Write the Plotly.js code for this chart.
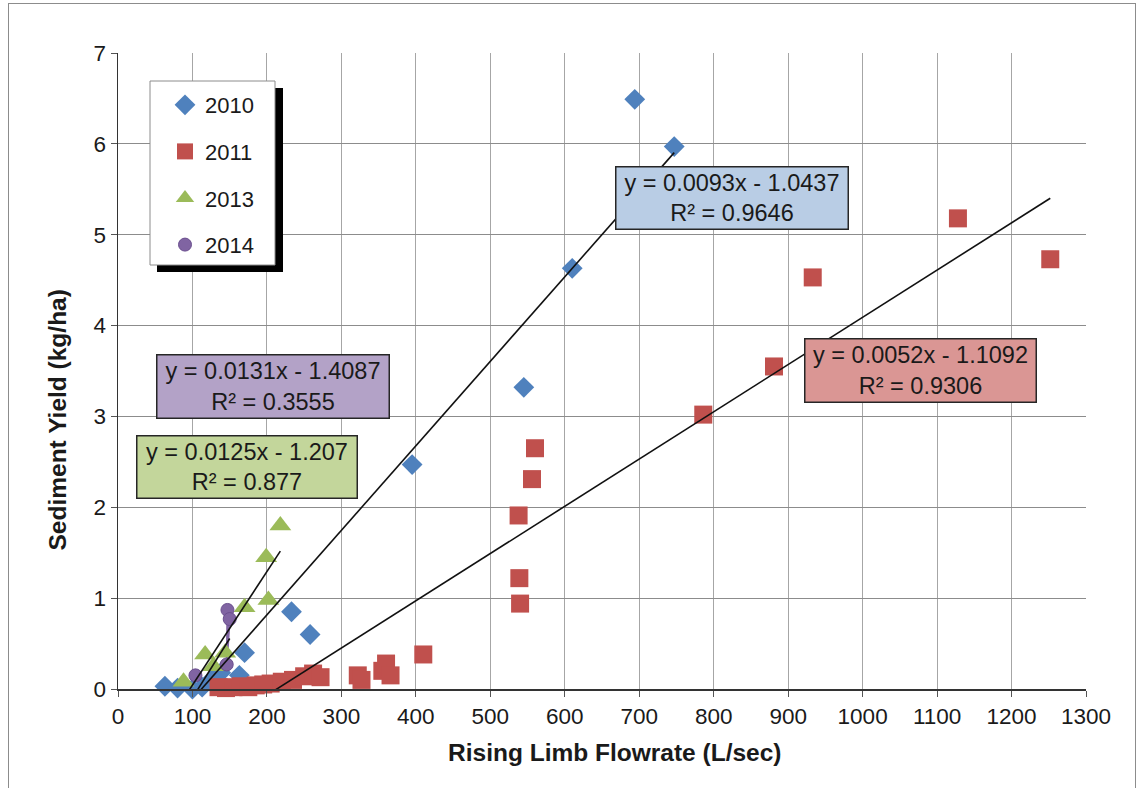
<!DOCTYPE html>
<html><head><meta charset="utf-8">
<script src="https://cdn.plot.ly/plotly-3.0.1.min.js"></script>
<style>
html,body{margin:0;padding:0;background:#fff;}
#frame{position:absolute;left:8px;top:3px;width:1128px;height:800px;border:1px solid #8c8c8c;box-sizing:border-box;}
#chart{position:absolute;left:0;top:0;width:1144px;height:788px;}
</style></head><body>
<div id="frame"></div>
<div id="chart"></div>
<script>
// ---- data ----
const seriesNames = ['2010', '2011', '2013', '2014'];
const x2010 = [63, 80, 100, 113, 125, 138, 163, 170, 233, 258, 395, 545, 610, 694, 747];
const y2010 = [0.03, 0.01, 0.00, 0.02, 0.10, 0.18, 0.15, 0.40, 0.85, 0.60, 2.47, 3.32, 4.63, 6.49, 5.97];
const x2011 = [135, 145, 155, 165, 175, 185, 195, 205, 220, 235, 250, 262, 272, 322, 327, 355, 360, 366, 410, 539, 540, 538, 556, 560, 786, 881, 933, 1128, 1252];
const y2011 = [0.02, 0.01, 0.02, 0.03, 0.02, 0.04, 0.05, 0.06, 0.08, 0.10, 0.14, 0.17, 0.13, 0.15, 0.10, 0.20, 0.28, 0.15, 0.38, 1.22, 0.94, 1.91, 2.31, 2.65, 3.02, 3.55, 4.53, 5.18, 4.73];
const x2013 = [88, 117, 128, 144, 170, 202, 199, 218];
const y2013 = [0.08, 0.38, 0.25, 0.40, 0.90, 0.98, 1.45, 1.80];
const x2014 = [104, 146, 147, 150];
const y2014 = [0.15, 0.27, 0.87, 0.77];
// trendline equations as printed on the chart
const slopes = [0.0093, 0.0052, 0.0125, 0.0131];
const intercepts = [-1.0437, -1.1092, -1.207, -1.4087];
const r2 = ['0.9646', '0.9306', '0.877', '0.3555'];
const eqTexts = ['y = 0.0093x - 1.0437', 'y = 0.0052x - 1.1092', 'y = 0.0125x - 1.207', 'y = 0.0131x - 1.4087'];
const xTicks = [0,100,200,300,400,500,600,700,800,900,1000,1100,1200,1300];
const yTicks = [0,1,2,3,4,5,6,7];

// ---- styling ----
const colors = ['#4F81BD', '#C0504D', '#9BBB59', '#8064A2'];
const symbols = ['diamond', 'square', 'triangle-up', 'circle'];
const sizes = [16, 18, 19, 13];
const boxFill = ['#B9CDE5', '#DA9694', '#C3D69B', '#B3A2C7'];
const W = 1144, H = 788, ML = 118, MR = 58, MT = 53, MB = 99;
const PW = W - ML - MR, PH = H - MT - MB;
const px2x = p => (p - ML) / PW, px2y = p => (H - MB - p) / PH;

const xs = [x2010, x2011, x2013, x2014];
const ys = [y2010, y2011, y2013, y2014];
const traces = [];
// connector line for 2014 points
const conIdx = [2, 1, 3];
traces.push({x: conIdx.map(i => x2014[i]), y: conIdx.map(i => y2014[i]), mode: 'lines',
  line: {color: colors[3], width: 2}, showlegend: false, hoverinfo: 'skip'});
for (let i = 0; i < 4; i++) {
  traces.push({x: xs[i], y: ys[i], name: seriesNames[i], mode: 'markers', legendgroup: 'g' + i,
    marker: {symbol: symbols[i], size: sizes[i], color: colors[i], line: {width: i === 3 ? 1 : 0, color: '#6b4f8f'}},
    cliponaxis: false});
}
for (let i = 0; i < 4; i++) {
  const lo = Math.min(...xs[i]), hi = Math.max(...xs[i]);
  traces.push({x: [lo, hi], y: [slopes[i] * lo + intercepts[i], slopes[i] * hi + intercepts[i]],
    mode: 'lines', line: {color: '#111', width: 1.6}, showlegend: false, hoverinfo: 'skip'});
}

// equation label boxes: [center x data, center y data, width, height]
const boxPos = [[824.6, 5.40, 229, 59], [1078, 3.51, 228, 60], [173.6, 2.44, 217, 59], [208.5, 3.33, 229, 60]];
const annotations = [];
for (let i = 0; i < 4; i++) {
  const b = boxPos[i];
  annotations.push({x: b[0], y: b[1], xref: 'x', yref: 'y', showarrow: false,
    text: eqTexts[i] + '<br>R² = ' + r2[i], align: 'center',
    font: {size: 23.5, color: '#1a1a1a'}, bgcolor: boxFill[i], bordercolor: '#262626',
    borderwidth: 1.5, borderpad: 1, width: b[2], height: b[3]});
}
annotations.push({xref: 'paper', yref: 'paper', x: px2x(615), y: px2y(768), showarrow: false,
  text: '<b>Rising Limb Flowrate (L/sec)</b>', font: {size: 24.5, color: '#1a1a1a'}});
annotations.push({xref: 'paper', yref: 'paper', x: px2x(42), y: px2y(420), showarrow: false, textangle: -90,
  text: '<b>Sediment Yield (kg/ha)</b>', font: {size: 24.5, color: '#1a1a1a'}});

// legend frame: drop shadow + white box with grey border (legend drawn on top)
const shapes = [
  {type: 'rect', xref: 'paper', yref: 'paper', x0: px2x(157), x1: px2x(283), y0: px2y(272), y1: px2y(88),
    fillcolor: '#000', line: {width: 0}, layer: 'above'},
  {type: 'rect', xref: 'paper', yref: 'paper', x0: px2x(150), x1: px2x(275), y0: px2y(265), y1: px2y(81),
    fillcolor: '#fff', line: {width: 1, color: '#8c8c8c'}, layer: 'above'}
];

const layout = {
  width: W, height: H, margin: {l: ML, r: MR, t: MT, b: MB},
  paper_bgcolor: 'rgba(0,0,0,0)', plot_bgcolor: '#fff',
  font: {family: 'Liberation Sans, Arial, sans-serif', size: 22.5, color: '#1a1a1a'},
  xaxis: {range: [0, 1300], tickvals: xTicks, showgrid: true, gridcolor: '#a6a6a6', gridwidth: 1,
    showline: true, linecolor: '#333', linewidth: 1.5, ticks: 'outside', ticklen: 6, tickcolor: '#555',
    zeroline: false, fixedrange: true},
  yaxis: {range: [0, 7], tickvals: yTicks, showgrid: true, gridcolor: '#8c8c8c', gridwidth: 1,
    showline: true, linecolor: '#333', linewidth: 1.5, ticks: 'outside', ticklen: 6, tickcolor: '#555',
    zeroline: false, fixedrange: true},
  legend: {x: px2x(165), y: px2y(84), xanchor: 'left', yanchor: 'top', bgcolor: 'rgba(0,0,0,0)',
    borderwidth: 0, font: {size: 22, color: '#1a1a1a'},
    traceorder: 'grouped', tracegroupgap: 15, itemwidth: 30},
  annotations: annotations, shapes: shapes, showlegend: true
};
Plotly.newPlot('chart', traces, layout, {displayModeBar: false, staticPlot: true});
</script></body></html>
